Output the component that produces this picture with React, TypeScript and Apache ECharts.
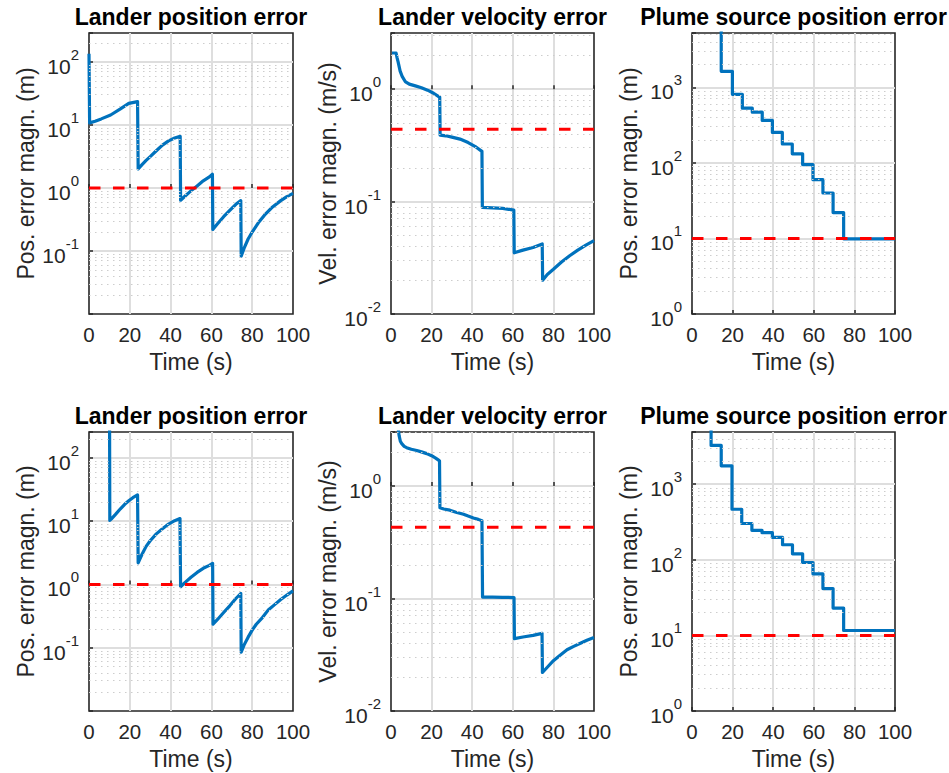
import React, { useEffect, useRef } from "react";
import * as echarts from "echarts";

// ---------- data ----------
const panelTitles = [
  "Lander position error",
  "Lander velocity error",
  "Plume source position error",
  "Lander position error",
  "Lander velocity error",
  "Plume source position error",
];
const yAxisNames = [
  "Pos. error magn. (m)",
  "Vel. error magn. (m/s)",
  "Pos. error magn. (m)",
  "Pos. error magn. (m)",
  "Vel. error magn. (m/s)",
  "Pos. error magn. (m)",
];
const xAxisName = "Time (s)";
const timeMin = 0;
const timeMax = 100;
const timeStep = 20;

// log10 extents of the y axes
const yExpMin = [-2, -2, 0, -2, -2, 0];
const yExpMax = [2.46, 0.5, 3.72, 2.41, 0.48, 3.69];
const showBottomLabel = [false, true, true, false, true, true];
// thresholds (red dashed)
const thresholds = [1.0, 0.44, 10, 1.0, 0.43, 10];

// Top-left: lander position error
const posErrTopT = [0, 0.3, 3, 6, 10.6, 15.4, 19.5, 23.8, 24.1, 26, 28, 30, 33, 36, 39, 42, 44.7, 44.9, 47, 50, 53, 56, 59, 60.5, 60.7, 63, 66, 69, 72, 74.4, 74.6, 76, 78, 80, 83, 86, 90, 94, 97, 100];
const posErrTopV = [135, 10.8, 11.5, 12.5, 14.4, 18, 22, 23.5, 2.0, 2.35, 2.75, 3.15, 3.9, 4.8, 5.6, 6.2, 6.6, 0.64, 0.74, 0.9, 1.08, 1.3, 1.5, 1.65, 0.22, 0.27, 0.35, 0.44, 0.55, 0.63, 0.083, 0.11, 0.155, 0.2, 0.28, 0.37, 0.5, 0.63, 0.73, 0.82];

// Top-middle: lander velocity error
const velErrTopT = [0.5, 2.5, 3, 3.5, 4.5, 5.5, 7, 9, 12, 15, 18, 21, 23.5, 24, 24.2, 27, 30, 34, 38, 42, 44.8, 45, 50, 55, 60.5, 60.7, 65, 70, 74.5, 74.7, 77, 80, 84, 88, 92, 96, 100];
const velErrTopV = [2.1, 2.1, 1.9, 1.75, 1.45, 1.3, 1.17, 1.11, 1.07, 1.03, 0.98, 0.92, 0.86, 0.85, 0.39, 0.385, 0.375, 0.36, 0.335, 0.305, 0.28, 0.089, 0.088, 0.087, 0.084, 0.035, 0.037, 0.039, 0.042, 0.02, 0.0225, 0.025, 0.029, 0.033, 0.037, 0.041, 0.045];

// Top-right: plume source position error (staircase)
const plumeTopT = [14.4, 14.4, 19.9, 24.8, 29.7, 34.6, 39.6, 44.5, 49.4, 54.5, 59.6, 64.5, 69.5, 74.7, 100];
const plumeTopV = [30000, 1630, 810, 530, 470, 365, 253, 178, 132, 95, 60, 40, 22, 9.9, 9.9];

// Bottom-left: lander position error
const posErrBotT = [10, 10.2, 11, 13, 15.4, 17.5, 19.5, 21.5, 23.8, 24.1, 26, 28, 30, 33, 36, 39, 42, 44.6, 44.9, 47, 50, 53, 56, 59, 60.6, 60.8, 63, 66, 69, 72, 74.4, 74.6, 76, 78, 80, 82, 85, 88, 91, 94, 97, 100];
const posErrBotV = [5000, 10.3, 10.9, 12.8, 15.7, 18.5, 21, 23.5, 26, 2.2, 3.0, 4.0, 4.9, 6.3, 7.6, 9.0, 10.2, 11, 0.92, 1.07, 1.3, 1.55, 1.8, 2.0, 2.15, 0.235, 0.28, 0.36, 0.46, 0.6, 0.72, 0.085, 0.11, 0.147, 0.19, 0.235, 0.3, 0.4, 0.48, 0.58, 0.68, 0.79];

// Bottom-middle: lander velocity error
const velErrBotT = [3.6, 4, 4.6, 5.3, 6.5, 7.7, 10, 12.7, 15, 17.6, 20, 22, 23.6, 23.9, 24.1, 26, 29, 32, 35.7, 38, 40.6, 43, 44.8, 45.1, 50, 55, 60.6, 60.8, 65, 70, 74.4, 74.6, 77, 80, 83, 86.7, 90, 93.3, 96.5, 100];
const velErrBotV = [3.2, 2.8, 2.5, 2.38, 2.25, 2.19, 2.12, 2.07, 2.01, 1.94, 1.86, 1.77, 1.69, 1.67, 0.64, 0.625, 0.61, 0.585, 0.56, 0.54, 0.52, 0.505, 0.49, 0.103, 0.103, 0.1025, 0.102, 0.044, 0.0455, 0.047, 0.049, 0.022, 0.0245, 0.028, 0.031, 0.035, 0.0375, 0.04, 0.0425, 0.045];

// Bottom-right: plume source position error (staircase)
const plumeBotT = [9.4, 9.4, 14.4, 19.7, 24.5, 29.5, 34.5, 39.6, 44.6, 49.5, 54.5, 59.6, 64.5, 69.5, 74.7, 100];
const plumeBotV = [30000, 3250, 1750, 466, 302, 245, 228, 198, 158, 120, 92, 65, 41.6, 23, 11.6, 11.6];

const seriesTimes = [posErrTopT, velErrTopT, plumeTopT, posErrBotT, velErrBotT, plumeBotT];
const seriesValues = [posErrTopV, velErrTopV, plumeTopV, posErrBotV, velErrBotV, plumeBotV];
const stepped = [false, false, true, false, false, true];

// ---------- styling ----------
const FONT = "'Liberation Sans', Arial, Helvetica, sans-serif";
const AXIS_COLOR = "#262626";
const BLUE = "#0072BD";
const RED = "#FF0000";

const gridBoxes = [
  { left: 89, top: 33, width: 204, height: 281 },
  { left: 391, top: 33, width: 203, height: 281 },
  { left: 692, top: 33, width: 203, height: 281 },
  { left: 89, top: 432, width: 204, height: 279 },
  { left: 391, top: 432, width: 203, height: 279 },
  { left: 692, top: 432, width: 203, height: 279 },
];
const titleTops = [5, 5, 5, 404, 404, 404];

function minorLevels(lo: number, hi: number) {
  const out: number[] = [];
  for (let n = Math.floor(lo) - 1; n <= Math.ceil(hi); n++) {
    for (let k = 2; k <= 9; k++) {
      const e = n + Math.log10(k);
      if (e > lo + 1e-6 && e < hi - 1e-6) out.push(e);
    }
  }
  return out;
}

function buildOption() {
  const grid: any[] = [];
  const xAxis: any[] = [];
  const yAxis: any[] = [];
  const series: any[] = [];
  const title: any[] = [];

  for (let i = 0; i < 6; i++) {
    const g = gridBoxes[i];
    grid.push({
      ...g,
      show: true,
      borderColor: AXIS_COLOR,
      borderWidth: 1.6,
      backgroundColor: "#ffffff",
      containLabel: false,
    });
    title.push({
      text: panelTitles[i],
      left: g.left + g.width / 2,
      top: titleTops[i],
      textAlign: "center",
      padding: 0,
      textStyle: { fontFamily: FONT, fontSize: 23, fontWeight: "bold", color: "#000" },
    });
    const lo = yExpMin[i];
    const showLo = showBottomLabel[i];
    xAxis.push({
      type: "value",
      gridIndex: i,
      min: timeMin,
      max: timeMax,
      interval: timeStep,
      name: xAxisName,
      nameLocation: "middle",
      nameGap: 36,
      nameTextStyle: { fontFamily: FONT, fontSize: 23, color: AXIS_COLOR },
      axisLine: { show: false },
      axisTick: { show: true, inside: true, length: 4, lineStyle: { color: AXIS_COLOR, width: 1.5 } },
      axisLabel: { fontFamily: FONT, fontSize: 20.5, color: AXIS_COLOR, margin: 10 },
      splitLine: { show: true, showMinLine: false, showMaxLine: false, lineStyle: { color: "#dedede", width: 2 } },
    });
    yAxis.push({
      type: "value",
      gridIndex: i,
      min: yExpMin[i],
      max: yExpMax[i],
      interval: 1,
      name: yAxisNames[i],
      nameLocation: "middle",
      nameGap: 52,
      nameTextStyle: { fontFamily: FONT, fontSize: 23, color: AXIS_COLOR },
      axisLine: { show: false },
      axisTick: { show: true, inside: true, length: 4, lineStyle: { color: AXIS_COLOR, width: 1.5 } },
      axisLabel: {
        margin: 10,
        formatter: (v: number) => {
          const r = Math.round(v);
          if (Math.abs(v - r) > 1e-6) return "";
          if (!showLo && Math.abs(v - lo) < 1e-6) return "";
          return `{b|10}{s|${r}}`;
        },
        rich: {
          b: { fontFamily: FONT, fontSize: 21, color: AXIS_COLOR, padding: [9, 0, 0, 0], verticalAlign: "bottom" },
          s: { fontFamily: FONT, fontSize: 15, color: AXIS_COLOR, verticalAlign: "top" },
        },
      },
      splitLine: { show: true, showMinLine: false, showMaxLine: false, lineStyle: { color: "#dedede", width: 2 } },
    });

    // minor log grid lines
    series.push({
      type: "line",
      xAxisIndex: i,
      yAxisIndex: i,
      data: [],
      silent: true,
      z: 1,
      markLine: {
        silent: true,
        symbol: ["none", "none"],
        label: { show: false },
        animation: false,
        lineStyle: { color: "#cdcdcd", width: 1.2, type: [1.5, 4.5] },
        data: minorLevels(yExpMin[i], yExpMax[i]).map((e) => ({ yAxis: e })),
      },
    });

    const ts = seriesTimes[i];
    const vs = seriesValues[i];
    series.push({
      type: "line",
      xAxisIndex: i,
      yAxisIndex: i,
      data: ts.map((t, j) => [t, Math.log10(vs[j])]),
      showSymbol: false,
      symbol: "none",
      step: stepped[i] ? "end" : false,
      clip: true,
      z: 3,
      lineStyle: { color: BLUE, width: 3.2, join: "round" },
    });
    series.push({
      type: "line",
      xAxisIndex: i,
      yAxisIndex: i,
      data: [
        [timeMin, Math.log10(thresholds[i])],
        [timeMax, Math.log10(thresholds[i])],
      ],
      showSymbol: false,
      symbol: "none",
      z: 4,
      lineStyle: { color: RED, width: 3, type: [11.5, 12.5] },
    });
  }

  return {
    animation: false,
    backgroundColor: "#ffffff",
    title,
    grid,
    xAxis,
    yAxis,
    series,
  };
}

export default function App() {
  const ref = useRef<HTMLDivElement>(null);
  useEffect(() => {
    if (!ref.current) return;
    const chart = echarts.init(ref.current, undefined, { renderer: "svg" });
    chart.setOption(buildOption() as any);
    return () => chart.dispose();
  }, []);
  return (
    <div
      ref={ref}
      style={{ position: "absolute", left: 0, top: 0, width: 949, height: 773, background: "#fff" }}
    />
  );
}
